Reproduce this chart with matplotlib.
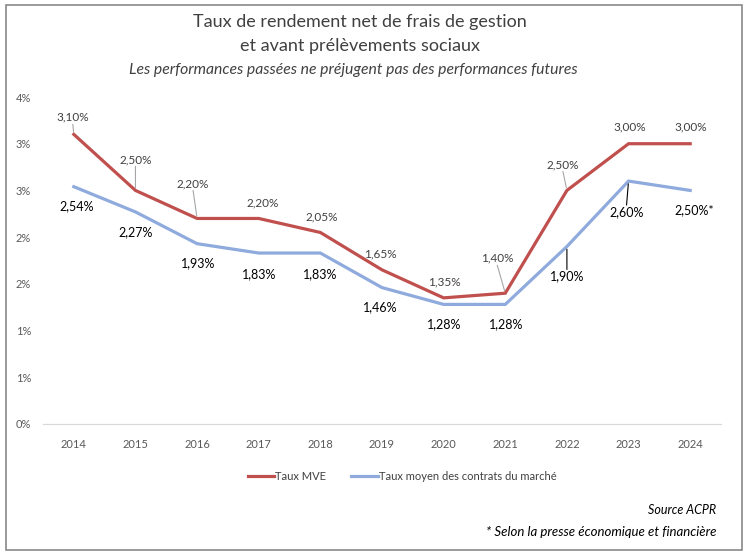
import matplotlib.pyplot as plt
from matplotlib.patches import Rectangle
from matplotlib.ticker import FixedLocator, FuncFormatter

# ---- data -------------------------------------------------------------
years = ["2014", "2015", "2016", "2017", "2018", "2019",
         "2020", "2021", "2022", "2023", "2024"]
taux_mve = [3.10, 2.50, 2.20, 2.20, 2.05, 1.65, 1.35, 1.40, 2.50, 3.00, 3.00]
taux_marche = [2.54, 2.27, 1.93, 1.83, 1.83, 1.46, 1.28, 1.28, 1.90, 2.60, 2.50]
label_mve = ["3,10%", "2,50%", "2,20%", "2,20%", "2,05%", "1,65%",
             "1,35%", "1,40%", "2,50%", "3,00%", "3,00%"]
label_marche = ["2,54%", "2,27%", "1,93%", "1,83%", "1,83%", "1,46%",
                "1,28%", "1,28%", "1,90%", "2,60%", "2,50%*"]
y_ticks = [0, 0.5, 1.0, 1.5, 2.0, 2.5, 3.0, 3.5]

# label offsets in pixels (dx, dy), and whether a leader line is drawn
off_mve = [(-1, 17), (0, 31), (-4, 35), (4, 16), (1, 16), (-2, 16),
           (1, 16), (-8, 35), (-4, 26), (1, 17), (1, 17)]
lead_mve = [True, True, True, False, False, False, False, True, True, False, False]
off_marche = [(3, -19), (0, -20), (1, -19), (0, -21), (0, -21), (-2, -20),
              (1, -20), (1, -20), (0, -30), (-2, -31), (4, -20)]
lead_marche = [False] * 8 + [True, True, False]

RED = "#C0504D"
BLUE = "#8FAADC"
GREY_TXT = "#404040"

plt.rcParams["font.family"] = ["Lato", "DejaVu Sans"]

fig = plt.figure(figsize=(7.48, 5.57), dpi=100)
ax = fig.add_axes([43 / 748, 1 - 424 / 557, 678 / 748, 327 / 557])

x = list(range(len(years)))
ax.plot(x, taux_mve, color=RED, lw=2.3, solid_joinstyle="miter", label="Taux MVE")
ax.plot(x, taux_marche, color=BLUE, lw=2.3, solid_joinstyle="miter",
        label="Taux moyen des contrats du marché")

ax.set_xlim(-0.5, len(years) - 0.5)
ax.set_ylim(0, 3.5)
ax.set_xticks(x)
ax.set_xticklabels(years)
ax.yaxis.set_major_locator(FixedLocator(y_ticks))
ax.yaxis.set_major_formatter(FuncFormatter(lambda v, p: "%d%%" % round(v + 1e-9)))
ax.tick_params(axis="both", length=0, labelsize=8, colors="#595959")
ax.tick_params(axis="x", pad=11)
ax.tick_params(axis="y", pad=19.5)
for lab in ax.get_yticklabels():
    lab.set_horizontalalignment("left")
for s in ["top", "right", "left"]:
    ax.spines[s].set_visible(False)
ax.spines["bottom"].set_color("#D9D9D9")
ax.spines["bottom"].set_linewidth(0.9)


def put_labels(vals, labels, offs, leads, color, size):
    for i, (v, t) in enumerate(zip(vals, labels)):
        dx, dy = offs[i]
        ax.annotate(t, (i, v), xytext=(dx, dy), textcoords="offset pixels",
                    ha="center", va="center", fontsize=size, color=color)
        if leads[i]:
            sgn = 1 if dy > 0 else -1
            ax.annotate("", (i, v), xytext=(dx, dy - sgn * 7),
                        textcoords="offset pixels",
                        arrowprops=dict(arrowstyle="-", color=color if color == "black" else "#A6A6A6",
                                        lw=0.8, shrinkA=0, shrinkB=2))


put_labels(taux_mve, label_mve, off_mve, lead_mve, GREY_TXT, 8.5)
put_labels(taux_marche, label_marche, off_marche, lead_marche, "black", 9)

# titles
fig.text(360 / 748, 1 - 22 / 557, "Taux de rendement net de frais de gestion",
         ha="center", va="center", fontsize=13, color=GREY_TXT)
fig.text(360 / 748, 1 - 46 / 557, "et avant prélèvements sociaux",
         ha="center", va="center", fontsize=13, color=GREY_TXT)
fig.text(353 / 748, 1 - 70 / 557, "Les performances passées ne préjugent pas des performances futures",
         ha="center", va="center", fontsize=11.3, style="italic", color=GREY_TXT)

leg = fig.legend(loc="center", bbox_to_anchor=(402 / 748, 1 - 476 / 557), ncol=2,
                 frameon=False, fontsize=8, handlelength=2.4, handletextpad=0.1,
                 columnspacing=2.2, labelcolor=GREY_TXT)

fig.text(716 / 748, 1 - 510 / 557, "Source ACPR", ha="right", va="center",
         fontsize=9, style="italic", color="black")
fig.text(716 / 748, 1 - 532 / 557, "* Selon la presse économique et financière",
         ha="right", va="center", fontsize=9.5, style="italic", color="black")

fig.patches.append(Rectangle((6 / 748, 1 - 550 / 557), 736 / 748, 545 / 557,
                             transform=fig.transFigure, fill=False,
                             edgecolor="#898989", lw=1.2))

fig.savefig("out.png", dpi=100)
